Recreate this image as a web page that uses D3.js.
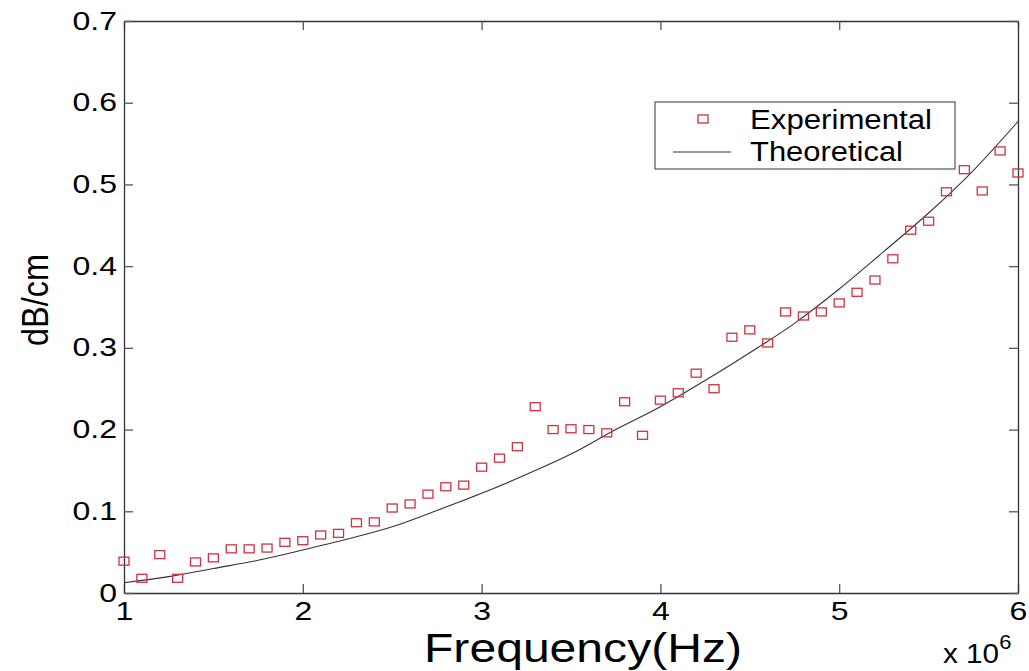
<!DOCTYPE html>
<html>
<head>
<meta charset="utf-8">
<script src="https://cdn.jsdelivr.net/npm/d3@7"></script>
<style>
  html, body { margin: 0; padding: 0; background: #fff; }
  svg { display: block; font-family: "Liberation Sans", Arial, sans-serif; }
</style>
</head>
<body>
<svg id="chart" width="1029" height="671"></svg>
<script>
// Frequency in units of 10^6 Hz
const freqs = [1.0,1.1,1.2,1.3,1.4,1.5,1.6,1.7,1.8,1.9,2.0,2.1,2.2,2.3,2.4,2.5,2.6,2.7,2.8,2.9,
               3.0,3.1,3.2,3.3,3.4,3.5,3.6,3.7,3.8,3.9,4.0,4.1,4.2,4.3,4.4,4.5,4.6,4.7,4.8,4.9,
               5.0,5.1,5.2,5.3,5.4,5.5,5.6,5.7,5.8,5.9,6.0];
// Measured attenuation, dB/cm
const experimental = [0.039,0.018,0.047,0.018,0.038,0.043,0.054,0.054,0.055,0.062,0.064,0.071,0.073,0.086,0.087,
                      0.104,0.109,0.121,0.130,0.132,0.154,0.165,0.179,0.228,0.200,0.201,0.200,0.196,0.234,0.193,
                      0.236,0.245,0.269,0.250,0.313,0.322,0.306,0.344,0.339,0.344,0.355,0.368,0.383,0.409,0.444,
                      0.455,0.491,0.518,0.492,0.541,0.514];
// Model curve samples
const theoryFreqs = [1.0,1.25,1.5,1.75,2.0,2.25,2.5,2.75,3.0,3.25,3.5,3.75,4.0,4.25,4.5,4.75,5.0,5.25,5.5,5.75,6.0];
const theoretical = [0.0126,0.020,0.030,0.040,0.0526,0.066,0.081,0.101,0.122,0.145,0.170,0.200,0.228,0.260,0.294,0.330,0.372,0.418,0.465,0.517,0.577];

const xTicks = [1,2,3,4,5,6];
const yTicks = [0,0.1,0.2,0.3,0.4,0.5,0.6,0.7];
const xTitle = "Frequency(Hz)";
const yTitle = "dB/cm";
const legendLabels = ["Experimental", "Theoretical"];

const margin = {left: 124, top: 21, right: 11, bottom: 78};
const W = 1029, H = 671;
const iw = W - margin.left - margin.right;
const ih = H - margin.top - margin.bottom;

const svg = d3.select("#chart");
const g = svg.append("g").attr("transform", `translate(${margin.left},${margin.top})`);

const x = d3.scaleLinear().domain([1, 6]).range([0, iw]);
const y = d3.scaleLinear().domain([0, 0.7]).range([ih, 0]);

const axisColor = "#333";
const tickColor = "#555";
const stretch = 1.28;

function widen(sel, factor) {
  sel.each(function () {
    const w = this.getComputedTextLength();
    d3.select(this).attr("textLength", w * factor).attr("lengthAdjust", "spacingAndGlyphs");
  });
}

// Axes with inward ticks on all four sides
const xB = g.append("g").attr("transform", `translate(0,${ih})`)
  .call(d3.axisBottom(x).tickValues(xTicks).tickSizeInner(-9).tickSizeOuter(0).tickPadding(9).tickFormat(d3.format("d")));
const xT = g.append("g")
  .call(d3.axisTop(x).tickValues(xTicks).tickSizeInner(-9).tickSizeOuter(0).tickFormat(""));
const yL = g.append("g")
  .call(d3.axisLeft(y).tickValues(yTicks).tickSizeInner(-9).tickSizeOuter(0).tickPadding(7).tickFormat(d => d === 0 ? "0" : d3.format(".1f")(d)));
const yR = g.append("g").attr("transform", `translate(${iw},0)`)
  .call(d3.axisRight(y).tickValues(yTicks).tickSizeInner(-9).tickSizeOuter(0).tickFormat(""));

[xB, xT, yL, yR].forEach(a => {
  a.select(".domain").attr("stroke", axisColor).attr("stroke-width", 1.3);
  a.selectAll(".tick line").attr("stroke", tickColor).attr("stroke-width", 1.3);
});
[xB, yL].forEach(a => {
  a.selectAll(".tick text").attr("font-size", 25).attr("fill", "#000")
    .attr("font-family", "Liberation Sans, Arial, sans-serif");
  widen(a.selectAll(".tick text"), stretch);
});

// Theoretical curve
const line = d3.line().x((d, i) => x(theoryFreqs[i])).y(d => y(d)).curve(d3.curveMonotoneX);
g.append("path").datum(theoretical)
  .attr("d", line).attr("fill", "none").attr("stroke", "#333").attr("stroke-width", 1.1);

// Experimental points
const mw = 10, mh = 8;
const red = "#d0323f";
g.append("g").selectAll("rect").data(experimental).join("rect")
  .attr("x", (d, i) => x(freqs[i]) - mw / 2)
  .attr("y", d => y(d) - mh / 2)
  .attr("width", mw).attr("height", mh)
  .attr("fill", "none").attr("stroke", red).attr("stroke-width", 1.3);

// Axis titles
svg.append("text").attr("x", margin.left + iw / 2 + 12).attr("y", 662)
  .attr("text-anchor", "middle").attr("font-size", 40).attr("fill", "#000")
  .attr("textLength", 318).attr("lengthAdjust", "spacingAndGlyphs").text(xTitle);

svg.append("text").attr("transform", "translate(48,300) rotate(-90)")
  .attr("text-anchor", "middle").attr("font-size", 37).attr("fill", "#000")
  .attr("textLength", 92).attr("lengthAdjust", "spacingAndGlyphs").text(yTitle);

// Exponent label for the frequency axis
const ex = svg.append("text").attr("x", 943).attr("y", 663).attr("font-size", 27).attr("fill", "#000");
ex.append("tspan").text("x 10");
ex.append("tspan").attr("dy", -14).attr("font-size", 20).text("6");
widen(ex, 1.1);

// Legend
const lg = svg.append("g");
lg.append("rect").attr("x", 655).attr("y", 102).attr("width", 300).attr("height", 67)
  .attr("fill", "#fff").attr("stroke", "#555").attr("stroke-width", 1.2);
lg.append("rect").attr("x", 703 - mw / 2).attr("y", 119 - mh / 2).attr("width", mw).attr("height", mh)
  .attr("fill", "none").attr("stroke", red).attr("stroke-width", 1.3);
lg.append("line").attr("x1", 673).attr("x2", 731).attr("y1", 152).attr("y2", 152)
  .attr("stroke", "#333").attr("stroke-width", 1.1);
lg.append("text").attr("x", 750).attr("y", 129).attr("font-size", 27).attr("fill", "#000")
  .attr("textLength", 182).attr("lengthAdjust", "spacingAndGlyphs").text(legendLabels[0]);
lg.append("text").attr("x", 750).attr("y", 161).attr("font-size", 27).attr("fill", "#000")
  .attr("textLength", 153).attr("lengthAdjust", "spacingAndGlyphs").text(legendLabels[1]);
</script>
</body>
</html>
